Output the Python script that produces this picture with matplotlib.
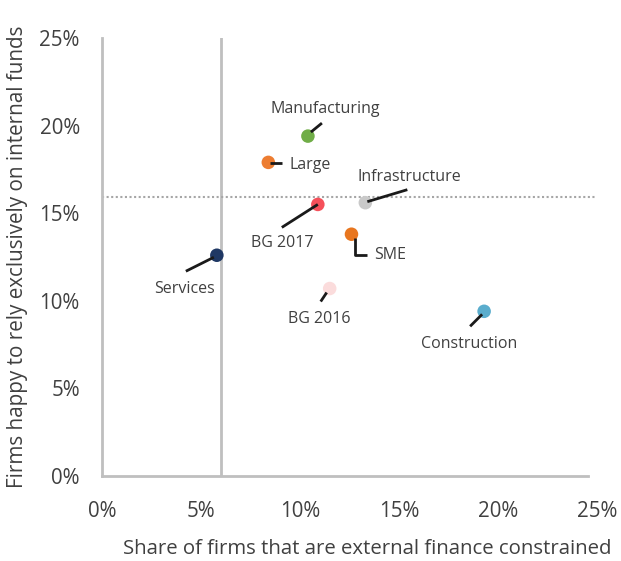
import matplotlib
matplotlib.use("Agg")
import matplotlib.pyplot as plt
import matplotlib.lines as mlines
from matplotlib.ticker import FuncFormatter

plt.rcParams['font.family'] = ['Open Sans', 'DejaVu Sans']

labels = ["Manufacturing", "Large", "Infrastructure", "BG 2017", "Services", "SME", "BG 2016", "Construction"]
x_vals = [10.4, 8.4, 13.3, 10.9, 5.8, 12.6, 11.5, 19.3]
y_vals = [19.4, 17.9, 15.6, 15.5, 12.6, 13.8, 10.7, 9.4]
colors = ["#70AD47", "#ED7D31", "#C9C9C9", "#F5505A", "#1F3864", "#E8761F", "#FBDCDC", "#5AADCD"]
vline_x = 6.0
hline_y = 15.9
ticks = [0, 5, 10, 15, 20, 25]

# text offsets (pixels), alignment, leader line vertices (pixels)
text_off = [(17, 27, 'center'), (21, -3, 'left'), (44, 26, 'center'), (-36, -39, 'center'),
            (-32, -34, 'center'), (23, -21, 'left'), (-10, -30, 'center'), (-15, -33, 'center')]
leaders = [[(3, 4), (14, 13)], [(2, -1), (14, -1)], [(2, 1), (42, 13)], [(0, 0), (-36, -23)],
           [(-3, -2), (-31, -16)], [(4, -4), (4, -21), (16, -21)], [(-3, -4), (-9, -13)], [(-2, -3), (-14, -15)]]

fig = plt.figure(figsize=(6.21, 5.61), dpi=100)
ax = fig.add_axes([0.1643, 0.1515, 0.7970, 0.7808])
ax.set_xlim(0, 25)
ax.set_ylim(0, 25)

grey = "#BFBFBF"
ax.axvline(vline_x, color=grey, lw=2, zorder=1)
ax.axhline(hline_y, color="#A6A6A6", lw=1.5, ls=(0, (1, 1.2)), zorder=1)

ax.scatter(x_vals, y_vals, s=95, c=colors, edgecolors='none', zorder=3)

fig.canvas.draw()
for lab, x, y, (tx, ty, ha), pts in zip(labels, x_vals, y_vals, text_off, leaders):
    ax.annotate(lab, xy=(x, y), xytext=(tx, ty), textcoords='offset pixels',
                ha=ha, va='center', fontsize=11.5, color='#404040', zorder=5)
    base = ax.transData.transform((x, y))
    disp = [(base[0] + px, base[1] + py) for px, py in pts]
    dpts = ax.transData.inverted().transform(disp)
    ax.add_line(mlines.Line2D(dpts[:, 0], dpts[:, 1], color='#1a1a1a', lw=2, zorder=4,
                              solid_capstyle='butt'))

for s in ['top', 'right']:
    ax.spines[s].set_visible(False)
for s in ['left', 'bottom']:
    ax.spines[s].set_color(grey)
    ax.spines[s].set_linewidth(2)
ax.spines['bottom'].set_bounds(0, 24.55)
ax.set_xticks(ticks)
ax.set_yticks(ticks)
fmt = FuncFormatter(lambda v, p: f"{int(v)}%")
ax.xaxis.set_major_formatter(fmt)
ax.yaxis.set_major_formatter(fmt)
ax.tick_params(length=0, labelsize=14.8, colors='#404040')
ax.tick_params(axis='y', pad=16)
ax.tick_params(axis='x', pad=18)
ax.set_xlabel("Share of firms that are external finance constrained", fontsize=14.7, color='#404040', labelpad=10)
ax.xaxis.set_label_coords(0.535, -0.143)
ax.set_ylabel("Firms happy to rely exclusively on internal funds", fontsize=14.9, color='#404040', labelpad=8)

fig.savefig("out.png", dpi=100)
